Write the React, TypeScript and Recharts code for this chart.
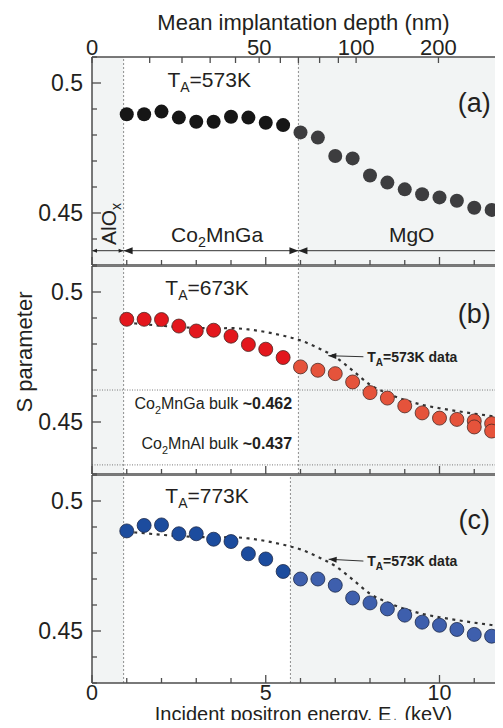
import React from "react";
import {
  ComposedChart,
  Scatter,
  Line,
  XAxis,
  YAxis,
  ReferenceLine,
  ReferenceArea,
  ReferenceDot,
  Label,
} from "recharts";

// positron energy of every measured point (keV)
const energy = [
  1.0, 1.5, 2.0, 2.5, 3.0, 3.5, 4.0, 4.5, 5.0, 5.5, 6.0, 6.5, 7.0, 7.5, 8.0,
  8.5, 9.0, 9.5, 10.0, 10.5, 11.0, 11.5, 12.0,
];
const s573 = [
  0.488, 0.488, 0.489, 0.4867, 0.4851, 0.4851, 0.487, 0.4867, 0.4847, 0.4838,
  0.481, 0.479, 0.4719, 0.471, 0.4644, 0.4617, 0.4591, 0.4572, 0.456, 0.4547,
  0.452, 0.4512, 0.4508,
];
const s673 = [
  0.4895, 0.4895, 0.4894, 0.4869, 0.485, 0.4853, 0.483, 0.4798, 0.478, 0.4748,
  0.4712, 0.4699, 0.4686, 0.4654, 0.4613, 0.4592, 0.4562, 0.4535, 0.4515,
  0.451, 0.4504, 0.4494, 0.4485,
];
// second measurement at the same energies (673K)
const repeatEnergy = [11.0, 11.5];
const repeat673 = [0.4481, 0.4465];
const s773 = [
  0.4885, 0.4906, 0.4908, 0.4874, 0.4874, 0.4853, 0.4844, 0.4797, 0.4777,
  0.4729, 0.47, 0.47, 0.4676, 0.4627, 0.4608, 0.4585, 0.4561, 0.4534, 0.4522,
  0.4506, 0.4487, 0.448, 0.448,
];
// smoothed 573K curve shown dotted in (b) and (c)
const fit573 = [
  0.4882, 0.4876, 0.487, 0.4865, 0.4862, 0.486, 0.4861, 0.4856, 0.4846,
  0.4832, 0.4814, 0.4785, 0.475, 0.4698, 0.4643, 0.461, 0.4585, 0.4566,
  0.4553, 0.4542, 0.4532, 0.4523, 0.4516,
];

const energyTicks = [0, 1, 2, 3, 4, 5, 6, 7, 8, 9, 10, 11, 12];
const sTicks = [0.43, 0.44, 0.45, 0.46, 0.47, 0.48, 0.49, 0.5, 0.51];
const sTickLabels = ["", "", "0.45", "", "", "", "", "0.5", ""];
// top axis: mean implantation depth (nm) placed at energy (keV)
const depthTickE = [0, 1.66, 2.59, 3.4, 4.13, 4.81, 5.42, 5.94, 6.55, 7.09, 7.6, 9.97];
const depthTickLabels = ["0", "", "", "", "", "50", "", "", "", "", "100", "200"];

const alOxEdge = 0.91;
const mgoEdgeAB = 5.94;
const mgoEdgeC = 5.71;
const bulkGa = 0.4623;
const bulkAl = 0.4335;

const font = '"Liberation Sans", Arial, Helvetica, sans-serif';
const ink = "#231f20";
const frame = "#4d4d4d";
const shade = "#f2f4f4";

const PLOT_LEFT = 92;
const PLOT_W = 417;
const RIGHT_AXIS = 20;
const CHART_W = PLOT_LEFT + PLOT_W + RIGHT_AXIS;
const PANEL_H = 208;

const toPoints = (xs: number[], ys: number[]) => xs.map((e, i) => ({ e, s: ys[i] }));
const fitPoints = toPoints(energy, fit573);

const bottomTick = (labels: boolean) => (p: any) => {
  const v = p.payload.value;
  const major = v % 5 === 0;
  return (
    <g>
      <line x1={p.x} x2={p.x} y1={p.y} y2={p.y - (major ? 8 : 5)} stroke={frame} strokeWidth={1.3} />
      {labels && major && (
        <text x={p.x} y={p.y + 17} textAnchor="middle" fontSize={21.5} fill={ink} fontFamily={font}>
          {v}
        </text>
      )}
    </g>
  );
};

const topTick = (p: any) => {
  const i = depthTickE.indexOf(p.payload.value);
  const label = depthTickLabels[i];
  return (
    <g>
      <line x1={p.x} x2={p.x} y1={p.y} y2={p.y + 6} stroke={frame} strokeWidth={1.3} />
      {label && (
        <text x={p.x} y={p.y - 2} textAnchor="middle" fontSize={22} fill={ink} fontFamily={font}>
          {label}
        </text>
      )}
    </g>
  );
};

const sideTick = (side: "left" | "right") => (p: any) => {
  const label = sTickLabels[sTicks.indexOf(p.payload.value)];
  const len = label ? 9 : 5;
  const dir = side === "left" ? 1 : -1;
  return (
    <g>
      <line x1={p.x} x2={p.x + dir * len} y1={p.y} y2={p.y} stroke={frame} strokeWidth={1.3} />
      {side === "left" && label && (
        <text x={p.x - 9} y={p.y} dy="0.35em" textAnchor="end" fontSize={23} fill={ink} fontFamily={font}>
          {label}
        </text>
      )}
    </g>
  );
};

const dotShape = (edge: number, inner: string, outer: string, stroke: string) => (p: any) => (
  <circle
    cx={p.cx}
    cy={p.cy}
    r={7}
    fill={p.payload.e > edge ? outer : inner}
    stroke={stroke}
    strokeWidth={stroke === "none" ? 0 : 0.8}
  />
);

const noShape = () => <g />;

const arrowShape = (both: boolean, len: number, half: number) => (p: any) => {
  const { x1, y1, x2, y2 } = p;
  const a = Math.atan2(y2 - y1, x2 - x1);
  const head = (x: number, y: number, ang: number) => {
    const bx = x - len * Math.cos(ang);
    const by = y - len * Math.sin(ang);
    const nx = -Math.sin(ang) * half;
    const ny = Math.cos(ang) * half;
    return `${x},${y} ${bx + nx},${by + ny} ${bx - nx},${by - ny}`;
  };
  return (
    <g>
      <line x1={x1} y1={y1} x2={x2} y2={y2} stroke="#333" strokeWidth={1} />
      <polygon points={head(x2, y2, a)} fill="#222" />
      {both && <polygon points={head(x1, y1, a + Math.PI)} fill="#222" />}
    </g>
  );
};

const note = (key: string, e: number, s: number, content: React.ReactNode, style: any = {}) => (
  <ReferenceDot
    key={key}
    x={e}
    y={s}
    r={0}
    ifOverflow="visible"
    shape={(p: any) => {
      const { rotate, ...rest } = style;
      return (
        <text
          x={p.cx}
          y={p.cy}
          fontFamily={font}
          fill={ink}
          fontSize={21}
          transform={rotate ? `rotate(${rotate} ${p.cx} ${p.cy})` : undefined}
          {...rest}
        >
          {content}
        </text>
      );
    }}
  />
);

const ta = (temp: string) => [
  <tspan key="t">T</tspan>,
  <tspan key="a" fontSize={14} dy={5}>A</tspan>,
  <tspan key="r" dy={-5}>={temp}</tspan>,
];

const taData = [
  <tspan key="t">T</tspan>,
  <tspan key="a" fontSize={10} dy={4}>A</tspan>,
  <tspan key="r" dy={-4}>=573K data</tspan>,
];

const co2 = (rest: string) => [
  <tspan key="c">Co</tspan>,
  <tspan key="2" fontSize="0.68em" dy={5}>2</tspan>,
  <tspan key="r" dy={-5}>{rest}</tspan>,
];

interface PanelProps {
  top: number;
  points: { e: number; s: number }[];
  inner: string;
  outer: string;
  stroke: string;
  mgoEdge: number;
  showFit: boolean;
  topAxis: boolean;
  bottomLabels: boolean;
  yTitle: boolean;
  notes: React.ReactNode[];
}

const Panel = (p: PanelProps) => {
  const topH = p.topAxis ? 57 : 0;
  const bottomH = p.bottomLabels ? 45 : 1;
  return (
    <div style={{ position: "absolute", left: 0, top: p.top - topH }}>
      <ComposedChart
        width={CHART_W}
        height={topH + PANEL_H + bottomH}
        margin={{ top: 0, right: 0, bottom: 0, left: 0 }}
      >
        <ReferenceArea x1={0} x2={alOxEdge} fill={shade} fillOpacity={1} stroke="none" />
        <ReferenceArea x1={p.mgoEdge} x2={12} fill={shade} fillOpacity={1} stroke="none" />
        <ReferenceLine x={alOxEdge} stroke="#8e8e8e" strokeDasharray="2 2" />
        <ReferenceLine x={p.mgoEdge} stroke="#8e8e8e" strokeDasharray="2 2" />
        {!p.topAxis && <ReferenceLine y={0.51} stroke={frame} strokeWidth={1.5} />}
        <XAxis
          dataKey="e"
          type="number"
          domain={[0, 12]}
          allowDataOverflow
          ticks={energyTicks}
          interval={0}
          tickLine={false}
          tickSize={0}
          tickMargin={0}
          tick={bottomTick(p.bottomLabels)}
          axisLine={{ stroke: frame, strokeWidth: 1.5 }}
          height={bottomH}
        >
          {p.bottomLabels && (
            <Label
              content={(l: any) => (
                <text
                  x={l.viewBox.x + l.viewBox.width / 2 + 3}
                  y={l.viewBox.y + 38}
                  textAnchor="middle"
                  fontSize={20}
                  fill={ink}
                  fontFamily={font}
                >
                  <tspan>Incident positron energy, E</tspan>
                  <tspan fontSize={13} dy={5}>+</tspan>
                  <tspan dy={-5}> (keV)</tspan>
                </text>
              )}
            />
          )}
        </XAxis>
        {p.topAxis && (
          <XAxis
            xAxisId="top"
            dataKey="e"
            orientation="top"
            type="number"
            domain={[0, 12]}
            allowDataOverflow
            ticks={depthTickE}
            interval={0}
            tickLine={false}
            tickSize={0}
            tickMargin={0}
            tick={topTick}
            axisLine={{ stroke: frame, strokeWidth: 1.5 }}
            height={topH}
          >
            <Label
              content={(l: any) => (
                <text
                  x={l.viewBox.x + l.viewBox.width / 2 + 3}
                  y={30}
                  textAnchor="middle"
                  fontSize={22}
                  fill={ink}
                  fontFamily={font}
                >
                  Mean implantation depth (nm)
                </text>
              )}
            />
          </XAxis>
        )}
        <YAxis
          dataKey="s"
          type="number"
          domain={[0.43, 0.51]}
          allowDataOverflow
          ticks={sTicks}
          interval={0}
          tickLine={false}
          tickSize={0}
          tickMargin={0}
          tick={sideTick("left")}
          axisLine={{ stroke: frame, strokeWidth: 1.5 }}
          width={PLOT_LEFT}
        >
          {p.yTitle && (
            <Label
              content={(l: any) => {
                const cx = 32;
                const cy = l.viewBox.y + l.viewBox.height / 2 - 18;
                return (
                  <text
                    x={cx}
                    y={cy}
                    transform={`rotate(-90 ${cx} ${cy})`}
                    textAnchor="middle"
                    fontSize={22}
                    fill={ink}
                    fontFamily={font}
                  >
                    S parameter
                  </text>
                );
              }}
            />
          )}
        </YAxis>
        <YAxis
          yAxisId="r"
          dataKey="s"
          orientation="right"
          type="number"
          domain={[0.43, 0.51]}
          allowDataOverflow
          ticks={sTicks}
          interval={0}
          tickLine={false}
          tickSize={0}
          tickMargin={0}
          tick={sideTick("right")}
          axisLine={{ stroke: frame, strokeWidth: 1.5 }}
          width={RIGHT_AXIS}
        />
        {/* invisible copies so the top and right axes get a scale */}
        {p.topAxis ? (
          <Scatter
            xAxisId="top"
            yAxisId="r"
            data={p.points}
            dataKey="s"
            shape={noShape}
            isAnimationActive={false}
          />
        ) : (
          <Scatter yAxisId="r" data={p.points} dataKey="s" shape={noShape} isAnimationActive={false} />
        )}
        <Scatter
          data={p.points}
          dataKey="s"
          shape={dotShape(p.mgoEdge, p.inner, p.outer, p.stroke)}
          isAnimationActive={false}
        />
        {p.showFit && (
          <Line
            data={fitPoints}
            dataKey="s"
            type="monotone"
            stroke="#333"
            strokeWidth={2.2}
            strokeDasharray="3 4.5"
            dot={false}
            activeDot={false}
            isAnimationActive={false}
          />
        )}
        {p.notes}
      </ComposedChart>
    </div>
  );
};

const notesA = [
  note("ta", 2.17, 0.4985, ta("573K")),
  note("lab", 11.0, 0.4888, "(a)", { fontSize: 27, textAnchor: "middle" }),
  note("alox", 0.47, 0.4458, [
    <tspan key="a">AlO</tspan>,
    <tspan key="x" fontSize={14} dy={5}>x</tspan>,
  ], { rotate: -90, textAnchor: "middle", dy: "0.35em" }),
  note("ga", 3.6, 0.4388, co2("MnGa"), { textAnchor: "middle" }),
  note("mgo", 9.2, 0.4388, "MgO", { textAnchor: "middle" }),
  <ReferenceLine
    key="ar1"
    segment={[{ x: 0, y: 0.4355 }, { x: alOxEdge, y: 0.4355 }]}
    shape={arrowShape(true, 5, 2)}
  />,
  <ReferenceLine
    key="ar2"
    segment={[{ x: alOxEdge, y: 0.4355 }, { x: mgoEdgeAB, y: 0.4355 }]}
    shape={arrowShape(true, 9, 3.5)}
  />,
  <ReferenceLine
    key="ar3"
    segment={[{ x: mgoEdgeAB, y: 0.4355 }, { x: 12, y: 0.4355 }]}
    shape={arrowShape(true, 9, 3.5)}
  />,
];

const notesB = [
  <ReferenceLine key="bga" y={bulkGa} stroke="#7a7a7a" strokeDasharray="1 1.5" />,
  <ReferenceLine key="bal" y={bulkAl} stroke="#7a7a7a" strokeDasharray="1 1.5" />,
  note("ta", 2.11, 0.4988, ta("673K")),
  note("lab", 11.0, 0.4881, "(b)", { fontSize: 27, textAnchor: "middle" }),
  note("bulkga", 5.76, 0.455, [
    ...co2("MnGa bulk "),
    <tspan key="v" fontWeight="bold">~0.462</tspan>,
  ], { fontSize: 16, textAnchor: "end" }),
  note("bulkal", 5.76, 0.4396, [
    ...co2("MnAl bulk "),
    <tspan key="v" fontWeight="bold">~0.437</tspan>,
  ], { fontSize: 16, textAnchor: "end" }),
  <ReferenceLine
    key="arr"
    segment={[{ x: 7.81, y: 0.4751 }, { x: 6.8, y: 0.4755 }]}
    shape={arrowShape(false, 8, 3)}
  />,
  note("fit", 7.92, 0.4732, taData, { fontSize: 14, fontWeight: "bold" }),
];

const notesC = [
  note("ta", 2.11, 0.4992, ta("773K")),
  note("lab", 11.0, 0.4892, "(c)", { fontSize: 27, textAnchor: "middle" }),
  <ReferenceLine
    key="arr"
    segment={[{ x: 7.81, y: 0.4769 }, { x: 6.81, y: 0.4776 }]}
    shape={arrowShape(false, 8, 3)}
  />,
  note("fit", 7.92, 0.475, taData, { fontSize: 14, fontWeight: "bold" }),
];

const App = () => {
  return (
    <div style={{ position: "relative", width: 503, height: 728, margin: -8, overflow: "hidden", background: "#fff" }}>
      <Panel
        top={57}
        points={toPoints(energy, s573)}
        inner="#161616"
        outer="#3d3d3f"
        stroke="none"
        mgoEdge={mgoEdgeAB}
        showFit={false}
        topAxis
        bottomLabels={false}
        yTitle={false}
        notes={notesA}
      />
      <Panel
        top={266}
        points={[...toPoints(energy, s673), ...toPoints(repeatEnergy, repeat673)]}
        inner="#e3171d"
        outer="#e5533b"
        stroke="#4a2a25"
        mgoEdge={mgoEdgeAB}
        showFit
        topAxis={false}
        bottomLabels={false}
        yTitle
        notes={notesB}
      />
      <Panel
        top={475}
        points={toPoints(energy, s773)}
        inner="#1c4c9e"
        outer="#3e5fad"
        stroke="#1d2a4a"
        mgoEdge={mgoEdgeC}
        showFit
        topAxis={false}
        bottomLabels
        yTitle={false}
        notes={notesC}
      />
    </div>
  );
};

export default App;
